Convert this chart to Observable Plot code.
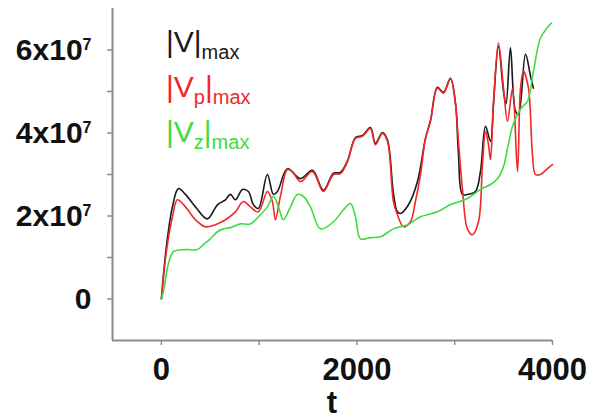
<!DOCTYPE html>
<html><head><meta charset="utf-8">
<script src="https://cdn.jsdelivr.net/npm/d3@7"></script>
<script src="https://cdn.jsdelivr.net/npm/@observablehq/plot@0.6"></script>
<style>body{margin:0;background:#fff}</style>
</head><body><div id="chart"></div>
<script>
// values in units of 1e7, t in simulation time
const V = [[0,0],[51,1.26],[113,2.22],[174,2.66],[246,2.52],[348,2.22],[470,1.93],[573,2.27],[655,2.39],[706,2.52],[757,2.39],[829,2.64],[890,2.59],[941,2.27],[992,2.18],[1084,3.00],[1146,2.52],[1187,2.59],[1289,3.14],[1422,2.90],[1545,3.10],[1657,2.62],[1760,3.03],[1831,3.05],[1903,3.33],[1985,3.89],[2056,3.94],[2138,4.13],[2189,3.75],[2261,4.01],[2312,3.83],[2373,2.55],[2414,2.10],[2445,2.06],[2527,2.27],[2619,2.83],[2701,3.87],[2752,4.30],[2823,5.10],[2885,4.98],[2956,5.32],[3008,4.72],[3038,3.50],[3079,2.52],[3130,2.52],[3212,2.59],[3263,3.07],[3315,4.16],[3366,3.80],[3396,4.69],[3447,6.09],[3499,5.00],[3525,4.70],[3570,6.05],[3622,4.52],[3652,4.45],[3724,5.90],[3775,5.37],[3805,5.08]];
const Vp = [[0,0],[51,1.14],[113,1.98],[164,2.39],[246,2.22],[348,1.91],[450,1.74],[552,1.79],[655,1.91],[757,2.10],[839,2.35],[910,2.22],[992,2.10],[1084,2.59],[1135,2.35],[1166,1.91],[1217,2.47],[1289,3.12],[1340,3.07],[1422,2.83],[1545,3.07],[1657,2.59],[1760,3.00],[1831,3.02],[1903,3.31],[1985,3.87],[2056,3.92],[2138,4.11],[2189,3.72],[2261,3.99],[2312,3.80],[2373,2.35],[2414,2.03],[2476,1.74],[2547,1.86],[2598,2.35],[2650,3.00],[2701,3.87],[2752,4.28],[2823,5.08],[2885,4.96],[2956,5.30],[3008,4.69],[3038,3.80],[3079,2.66],[3130,1.69],[3182,1.55],[3243,1.86],[3284,3.24],[3315,4.04],[3345,3.72],[3366,3.36],[3396,4.69],[3447,6.17],[3499,5.08],[3540,4.28],[3591,5.08],[3642,3.07],[3673,5.08],[3703,5.49],[3754,5.08],[3795,3.48],[3826,3.00],[3877,3.00],[3938,3.12],[4000,3.24]];
const Vz = [[0,0],[20,0.17],[72,0.85],[123,1.14],[246,1.19],[368,1.19],[430,1.31],[501,1.45],[573,1.62],[634,1.69],[706,1.72],[808,1.81],[910,1.81],[1013,2.03],[1084,2.22],[1146,2.47],[1197,2.22],[1248,1.91],[1320,2.22],[1391,2.52],[1453,2.47],[1524,2.22],[1627,1.69],[1760,1.86],[1862,2.15],[1933,2.30],[1985,1.98],[2036,1.45],[2138,1.48],[2240,1.50],[2373,1.69],[2517,1.79],[2650,1.98],[2823,2.10],[2956,2.27],[3130,2.42],[3263,2.64],[3366,2.76],[3437,2.90],[3499,3.19],[3540,3.63],[3591,4.16],[3642,4.45],[3693,4.64],[3744,4.76],[3805,5.49],[3877,6.29],[3938,6.51],[3990,6.65]];

const seriesNames = ["V", "Vp", "Vz"];
const seriesLabels = [["|V|", "", "max"], ["|V", "p", "max"], ["|V", "z", "max"]];
const seriesColors = ["#1a1a1a", "#f02828", "#3edc3e"];
const xTicks = [0, 2000, 4000];
const xMinorTicks = [1000, 3000];
const yTicks = [0, 2, 4, 6];
const yMinorTicks = [1, 3, 5];
const yExponent = "7";
const xLabel = "t";

const toRows = (arr, name) => arr.map(([t, v]) => ({t, v, series: name}));
const rows = [...toRows(V, "V"), ...toRows(Vp, "Vp"), ...toRows(Vz, "Vz")];

const W = 592, H = 419, mL = 112, mR = 40, mT = 8, mB = 79;
const axisColor = "#8c8c8c";
const font = "'Liberation Sans', Arial, sans-serif";

const plot = Plot.plot({
  width: W, height: H, marginLeft: mL, marginRight: mR, marginTop: mT, marginBottom: mB,
  x: {domain: [-500, 4000]},
  y: {domain: [-1, 7]},
  color: {domain: seriesNames, range: seriesColors},
  style: {fontFamily: font, background: "#fff", overflow: "visible"},
  marks: [
    Plot.ruleX([-500], {stroke: axisColor, strokeWidth: 2}),
    Plot.ruleY([-1], {stroke: axisColor, strokeWidth: 2}),
    Plot.axisX({ticks: xTicks, tickSize: 5, tickPadding: 12, stroke: axisColor, strokeWidth: 1.5,
      fontSize: 31, fontWeight: "bold", fill: "#111", label: null, tickFormat: d => String(d)}),
    Plot.axisX({ticks: xMinorTicks, tickSize: 5, stroke: axisColor, strokeWidth: 1.5, label: null, tickFormat: () => ""}),
    Plot.axisY({ticks: yTicks, tickSize: 5, tickPadding: 16, stroke: axisColor, strokeWidth: 1.5,
      fontSize: 30, fontWeight: "bold", fill: "#111", label: null, tickFormat: d => d === 0 ? "0" : d + "x10"}),
    Plot.axisY({ticks: yMinorTicks, tickSize: 5, stroke: axisColor, strokeWidth: 1.5, label: null, tickFormat: () => ""}),
    Plot.line(rows, {x: "t", y: "v", z: "series", stroke: "series", strokeWidth: 1.6, curve: "catmull-rom"})
  ]
});

const svg = d3.select(plot);
// superscript exponent on y tick labels
svg.selectAll('g[aria-label="y-axis tick label"] text').each(function() {
  const t = d3.select(this);
  if (t.text() !== "0" && t.text() !== "") {
    t.append("tspan").attr("dy", "-0.62em").attr("font-size", 16).text(yExponent);
  }
});
// legend
const lg = svg.append("g").attr("font-family", font).attr("text-anchor", "start");
seriesLabels.forEach(([main, sub, tail], i) => {
  const tx = lg.append("text").attr("x", 166).attr("y", 52 + i * 45).attr("fill", seriesColors[i])
    .attr("font-size", 30).attr("text-anchor", "start");
  tx.append("tspan").text(main);
  if (sub) {
    tx.append("tspan").attr("font-size", 20).attr("dy", 7).text(sub);
    tx.append("tspan").attr("font-size", 30).attr("dy", -7).text("|");
  }
  tx.append("tspan").attr("font-size", 20).attr("dy", 7).text(tail);
});
// x-axis title
svg.append("text").attr("x", (mL + W - mR) / 2).attr("y", 413).attr("text-anchor", "middle")
  .attr("font-family", font).attr("font-size", 31).attr("font-weight", "bold").attr("fill", "#111").text(xLabel);

document.getElementById("chart").appendChild(plot);
</script>
</body></html>
